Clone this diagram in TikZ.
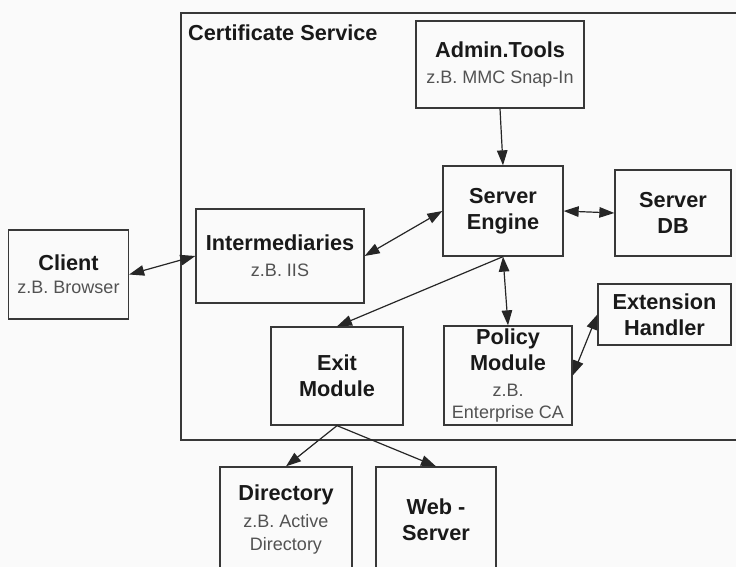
\documentclass[tikz,border=0pt]{standalone}
\usepackage{fontspec}
\setmainfont{Liberation Sans}
\usepackage{tikz}
\usetikzlibrary{arrows.meta}
\definecolor{framegray}{gray}{0.22}
\definecolor{notegray}{gray}{0.32}
\newcommand{\boxnote}[1]{{\fontsize{18}{22}\selectfont\mdseries\color{notegray}#1}}
\tikzstyle{block} = [rectangle, draw=framegray, line width=1.3pt, align=center,
                     inner sep=0pt, text=black!90,
                     font=\fontsize{21.7}{26}\selectfont\bfseries]
\tikzstyle{arrow} = [-{Triangle[length=15pt,width=10.5pt]}, line width=1.2pt, black!85]
\tikzstyle{darrow} = [{Triangle[length=15pt,width=10.5pt]}-{Triangle[length=15pt,width=10.5pt]},
                      line width=1.2pt, black!85]

\begin{document}
\begin{tikzpicture}[x=1pt, y=-1pt]
    \useasboundingbox (0,0) rectangle (736,567);
    \clip (0,0) rectangle (736,567);
    \fill [white!98!black] (0,0) rectangle (736,567);

    \draw [draw=framegray, line width=1.3pt] (181,13) rectangle (760,440);
    \node [anchor=west, inner sep=0pt, text=black!90,
           font=\fontsize{21.7}{26}\selectfont\bfseries] (certsvc) at (188,33) {Certificate Service};

    \node [block, minimum width=120, minimum height=89] (client) at (68.5,274.5)
          {Client\\[-3pt]\boxnote{z.B. Browser}};
    \node [block, minimum width=168, minimum height=94] (inter) at (280,256)
          {Intermediaries\\\boxnote{z.B. IIS}};
    \node [block, minimum width=168, minimum height=87] (admin) at (500,64.5)
          {Admin.Tools\\\boxnote{z.B. MMC Snap-In}};
    \node [block, minimum width=120, minimum height=90] (engine) at (503,211)
          {Server\\Engine};
    \node [block, minimum width=116, minimum height=86] (db) at (673,213)
          {Server\\DB};
    \node [block, minimum width=133, minimum height=61] (ext) at (664.5,314.5)
          {Extension\\Handler};
    \node [block, minimum width=128, minimum height=99] (policy) at (508,375.5)
          {Policy\\Module\\\boxnote{z.B.}\\[-4pt]\boxnote{Enterprise CA}};
    \node [block, minimum width=132, minimum height=98] (exit) at (337,376)
          {Exit\\Module};
    \node [block, minimum width=132, minimum height=105] (dir) at (286,519.5)
          {Directory\\\boxnote{z.B. Active}\\[-3pt]\boxnote{Directory}};
    \node [block, minimum width=120, minimum height=105] (web) at (436,519.5)
          {Web -\\Server};

    \draw [darrow] (client.east) -- (inter.west);
    \draw [darrow] (inter.east) -- (engine.west);
    \draw [arrow] (admin.south) -- (engine.north);
    \draw [darrow] (engine.east) -- (db.west);
    \draw [arrow] (engine.south) -- (exit.north);
    \draw [darrow] (engine.south) -- (policy.north);
    \draw [darrow] (policy.east) -- (ext.west);
    \draw [arrow] (exit.south) -- (dir.north);
    \draw [arrow] (exit.south) -- (web.north);
\end{tikzpicture}
\end{document}
